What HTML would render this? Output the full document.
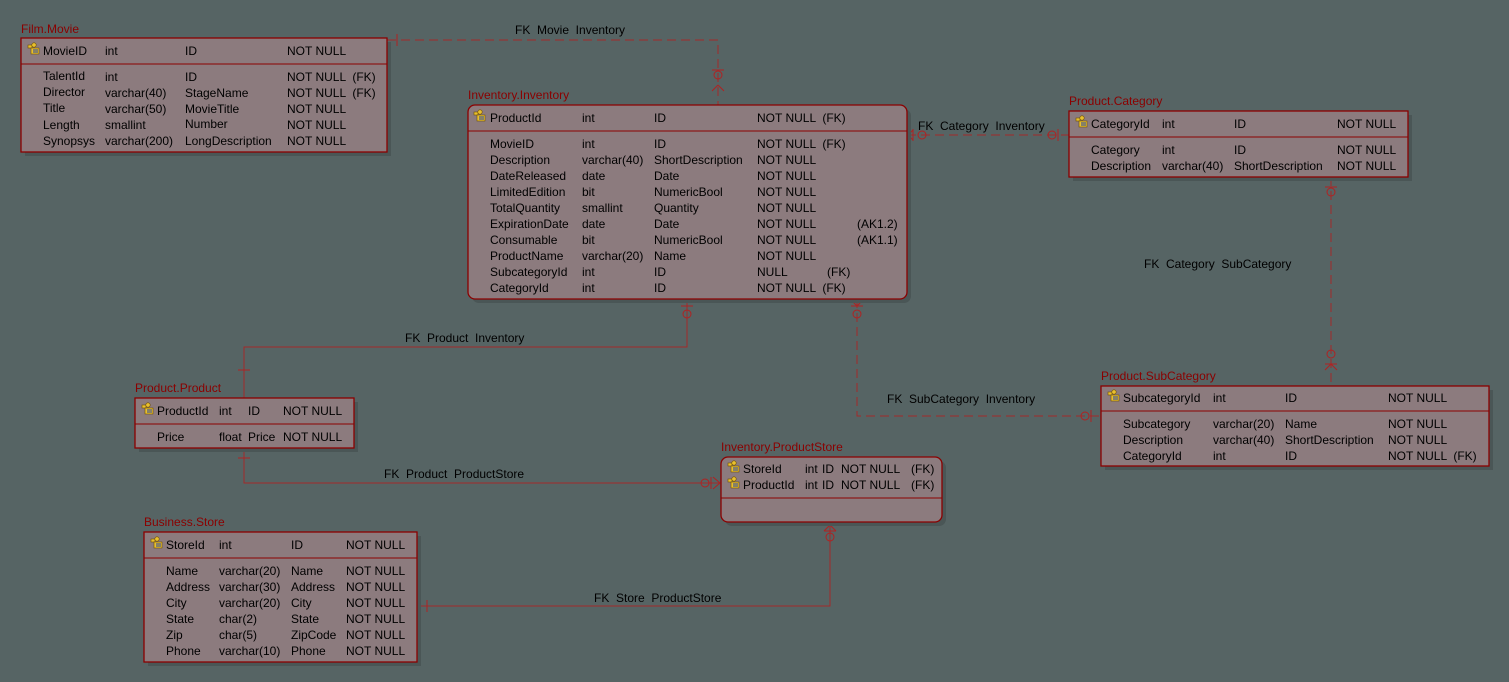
<!DOCTYPE html>
<html><head><meta charset="utf-8"><style>
html,body{margin:0;padding:0;background:#566464;}
svg{display:block;}
text{font-family:"Liberation Sans",sans-serif;font-size:12px;fill:#000;white-space:pre;}
.t{fill:#8b0000;}
.b{fill:#8c7b7e;stroke:#8b0000;stroke-width:1.3;}
.s{fill:#4a5656;}
.l{stroke:#a22a2a;stroke-width:1;fill:none;}
.d{stroke-dasharray:9 5;}
.m{stroke:#b02222;stroke-width:1;fill:none;}
</style></head><body>
<svg width="1509" height="682" xmlns="http://www.w3.org/2000/svg" xml:space="preserve">
<defs>
<g id="k"><rect x="0" y="-3" width="4" height="3" fill="#e8c030" stroke="#705000" stroke-width="0.6"/><circle cx="6" cy="-3" r="2.2" fill="#e8c030" stroke="#705000" stroke-width="0.6"/><rect x="3" y="0" width="8" height="6" fill="#e8c030" stroke="#705000" stroke-width="0.6"/><line x1="5" y1="2" x2="10" y2="2" stroke="#2040a0"/><line x1="5" y1="4" x2="10" y2="4" stroke="#2040a0"/></g>
</defs>
<path class="l d" d="M387 40 H718 V105"/>
<path class="m" d="M397 34 V46 M712 70 H724 M718 85 L712 91 M718 85 L724 91"/><circle class="m" cx="718" cy="75" r="4"/>
<path class="l d" d="M907 135 H1069"/>
<path class="m" d="M1058 129 V141 M908 135 L913 130 M908 135 L913 140 M913 129 V141"/><circle class="m" cx="922" cy="135" r="4"/><circle class="m" cx="1052" cy="135" r="4"/>
<path class="l d" d="M1331 177 V386"/>
<path class="m" d="M1325 187 H1337 M1325 364 H1337 M1331 364 L1325 370 M1331 364 L1337 370"/><circle class="m" cx="1331" cy="192" r="4"/><circle class="m" cx="1331" cy="354" r="4"/>
<path class="l d" d="M857 299 V416 H1101"/>
<path class="m" d="M851 306 H863 M857 306 L851 300 M857 306 L863 300 M1091 410 V422"/><circle class="m" cx="857" cy="314" r="4"/><circle class="m" cx="1085" cy="416" r="4"/>
<path class="l" d="M687 299 V347 H244 V398"/>
<path class="m" d="M681 306 H693 M238 370 H250"/><circle class="m" cx="687" cy="314" r="4"/>
<path class="l" d="M244 448 V483 H721"/>
<path class="m" d="M238 458 H250 M711 477 V489 M720 483 L713 477 M720 483 L713 489"/><circle class="m" cx="705" cy="483" r="4"/>
<path class="l" d="M417 606 H830 V522"/>
<path class="m" d="M824 531 H836 M830 525 L824 531 M830 525 L836 531 M427 600 V612"/><circle class="m" cx="830" cy="537" r="4"/>
<text x="515" y="34">FK  Movie  Inventory</text>
<text x="918" y="130">FK  Category  Inventory</text>
<text x="1144" y="268">FK  Category  SubCategory</text>
<text x="887" y="403">FK  SubCategory  Inventory</text>
<text x="405" y="342">FK  Product  Inventory</text>
<text x="384" y="478">FK  Product  ProductStore</text>
<text x="594" y="602">FK  Store  ProductStore</text>

<rect class="s" x="25" y="42" width="366" height="114"/>
<rect class="b" x="21" y="38" width="366" height="114"/>
<line x1="21" y1="64" x2="387" y2="64" stroke="#8b0000"/>
<text class="t" x="21" y="33">Film.Movie</text>
<use href="#k" x="28" y="48"/>
<text x="43" y="55">MovieID</text><text x="105" y="55">int</text><text x="185" y="55">ID</text><text x="287" y="55">NOT NULL</text>
<text x="43" y="80">TalentId</text><text x="105" y="81">int</text><text x="185" y="81">ID</text><text x="287" y="81">NOT NULL  (FK)</text>
<text x="43" y="96">Director</text><text x="105" y="97">varchar(40)</text><text x="185" y="97">StageName</text><text x="287" y="97">NOT NULL  (FK)</text>
<text x="43" y="112">Title</text><text x="105" y="113">varchar(50)</text><text x="185" y="113">MovieTitle</text><text x="287" y="113">NOT NULL</text>
<text x="43" y="129">Length</text><text x="105" y="129">smallint</text><text x="185" y="128">Number</text><text x="287" y="129">NOT NULL</text>
<text x="43" y="145">Synopsys</text><text x="105" y="145">varchar(200)</text><text x="185" y="145">LongDescription</text><text x="287" y="145">NOT NULL</text>

<rect class="s" x="472" y="109" width="439" height="194" rx="7"/>
<rect class="b" x="468" y="105" width="439" height="194" rx="7"/>
<line x1="468" y1="131" x2="907" y2="131" stroke="#8b0000"/>
<text class="t" x="468" y="99">Inventory.Inventory</text>
<use href="#k" x="474" y="115"/>
<text x="490" y="122">ProductId</text><text x="582" y="122">int</text><text x="654" y="122">ID</text><text x="757" y="122">NOT NULL  (FK)</text>
<text x="490" y="148">MovieID</text><text x="582" y="148">int</text><text x="654" y="148">ID</text><text x="757" y="148">NOT NULL  (FK)</text>
<text x="490" y="164">Description</text><text x="582" y="164">varchar(40)</text><text x="654" y="164">ShortDescription</text><text x="757" y="164">NOT NULL</text>
<text x="490" y="180">DateReleased</text><text x="582" y="180">date</text><text x="654" y="180">Date</text><text x="757" y="180">NOT NULL</text>
<text x="490" y="196">LimitedEdition</text><text x="582" y="196">bit</text><text x="654" y="196">NumericBool</text><text x="757" y="196">NOT NULL</text>
<text x="490" y="212">TotalQuantity</text><text x="582" y="212">smallint</text><text x="654" y="212">Quantity</text><text x="757" y="212">NOT NULL</text>
<text x="490" y="228">ExpirationDate</text><text x="582" y="228">date</text><text x="654" y="228">Date</text><text x="757" y="228">NOT NULL</text><text x="857" y="228">(AK1.2)</text>
<text x="490" y="244">Consumable</text><text x="582" y="244">bit</text><text x="654" y="244">NumericBool</text><text x="757" y="244">NOT NULL</text><text x="857" y="244">(AK1.1)</text>
<text x="490" y="260">ProductName</text><text x="582" y="260">varchar(20)</text><text x="654" y="260">Name</text><text x="757" y="260">NOT NULL</text>
<text x="490" y="276">SubcategoryId</text><text x="582" y="276">int</text><text x="654" y="276">ID</text><text x="757" y="276">NULL</text><text x="827" y="276">(FK)</text>
<text x="490" y="292">CategoryId</text><text x="582" y="292">int</text><text x="654" y="292">ID</text><text x="757" y="292">NOT NULL  (FK)</text>

<rect class="s" x="1073" y="115" width="339" height="66"/>
<rect class="b" x="1069" y="111" width="339" height="66"/>
<line x1="1069" y1="137" x2="1408" y2="137" stroke="#8b0000"/>
<text class="t" x="1069" y="105">Product.Category</text>
<use href="#k" x="1076" y="121"/>
<text x="1091" y="128">CategoryId</text><text x="1162" y="128">int</text><text x="1234" y="128">ID</text><text x="1337" y="128">NOT NULL</text>
<text x="1091" y="154">Category</text><text x="1162" y="154">int</text><text x="1234" y="154">ID</text><text x="1337" y="154">NOT NULL</text>
<text x="1091" y="170">Description</text><text x="1162" y="170">varchar(40)</text><text x="1234" y="170">ShortDescription</text><text x="1337" y="170">NOT NULL</text>

<rect class="s" x="1105" y="390" width="388" height="80"/>
<rect class="b" x="1101" y="386" width="388" height="80"/>
<line x1="1101" y1="411" x2="1489" y2="411" stroke="#8b0000"/>
<text class="t" x="1101" y="380">Product.SubCategory</text>
<use href="#k" x="1108" y="395"/>
<text x="1123" y="402">SubcategoryId</text><text x="1213" y="402">int</text><text x="1285" y="402">ID</text><text x="1388" y="402">NOT NULL</text>
<text x="1123" y="428">Subcategory</text><text x="1213" y="428">varchar(20)</text><text x="1285" y="428">Name</text><text x="1388" y="428">NOT NULL</text>
<text x="1123" y="444">Description</text><text x="1213" y="444">varchar(40)</text><text x="1285" y="444">ShortDescription</text><text x="1388" y="444">NOT NULL</text>
<text x="1123" y="460">CategoryId</text><text x="1213" y="460">int</text><text x="1285" y="460">ID</text><text x="1388" y="460">NOT NULL  (FK)</text>

<rect class="s" x="139" y="402" width="219" height="50"/>
<rect class="b" x="135" y="398" width="219" height="50"/>
<line x1="135" y1="424" x2="354" y2="424" stroke="#8b0000"/>
<text class="t" x="135" y="392">Product.Product</text>
<use href="#k" x="142" y="408"/>
<text x="157" y="415">ProductId</text><text x="219" y="415">int</text><text x="248" y="415">ID</text><text x="283" y="415">NOT NULL</text>
<text x="157" y="441">Price</text><text x="219" y="441">float</text><text x="248" y="441">Price</text><text x="283" y="441">NOT NULL</text>

<rect class="s" x="725" y="461" width="221" height="65" rx="7"/>
<rect class="b" x="721" y="457" width="221" height="65" rx="7"/>
<line x1="721" y1="498" x2="942" y2="498" stroke="#8b0000"/>
<text class="t" x="721" y="451">Inventory.ProductStore</text>
<use href="#k" x="728" y="466"/><use href="#k" x="728" y="482"/>
<text x="743" y="473">StoreId</text><text x="805" y="473">int</text><text x="822" y="473">ID</text><text x="841" y="473">NOT NULL</text><text x="911" y="473">(FK)</text>
<text x="743" y="489">ProductId</text><text x="805" y="489">int</text><text x="822" y="489">ID</text><text x="841" y="489">NOT NULL</text><text x="911" y="489">(FK)</text>

<rect class="s" x="148" y="536" width="273" height="130"/>
<rect class="b" x="144" y="532" width="273" height="130"/>
<line x1="144" y1="558" x2="417" y2="558" stroke="#8b0000"/>
<text class="t" x="144" y="526">Business.Store</text>
<use href="#k" x="151" y="542"/>
<text x="166" y="549">StoreId</text><text x="219" y="549">int</text><text x="291" y="549">ID</text><text x="346" y="549">NOT NULL</text>
<text x="166" y="575">Name</text><text x="219" y="575">varchar(20)</text><text x="291" y="575">Name</text><text x="346" y="575">NOT NULL</text>
<text x="166" y="591">Address</text><text x="219" y="591">varchar(30)</text><text x="291" y="591">Address</text><text x="346" y="591">NOT NULL</text>
<text x="166" y="607">City</text><text x="219" y="607">varchar(20)</text><text x="291" y="607">City</text><text x="346" y="607">NOT NULL</text>
<text x="166" y="623">State</text><text x="219" y="623">char(2)</text><text x="291" y="623">State</text><text x="346" y="623">NOT NULL</text>
<text x="166" y="639">Zip</text><text x="219" y="639">char(5)</text><text x="291" y="639">ZipCode</text><text x="346" y="639">NOT NULL</text>
<text x="166" y="655">Phone</text><text x="219" y="655">varchar(10)</text><text x="291" y="655">Phone</text><text x="346" y="655">NOT NULL</text>
</svg>
</body></html>
